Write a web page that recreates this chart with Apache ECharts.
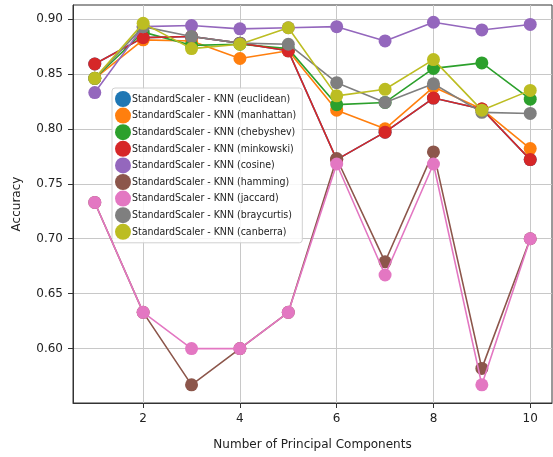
<!DOCTYPE html>
<html>
<head>
<meta charset="utf-8">
<script src="https://cdn.jsdelivr.net/npm/echarts@6/dist/echarts.min.js"></script>
<style>html,body{margin:0;padding:0;background:#fff;}#c{width:553px;height:457px;}</style>
</head>
<body>
<div id="c"></div>
<script>
const components = [1, 2, 3, 4, 5, 6, 7, 8, 9, 10];
const xTicks = [2, 4, 6, 8, 10];
const yTicks = [0.60, 0.65, 0.70, 0.75, 0.80, 0.85, 0.90];

const euclidean  = [0.859, 0.883, 0.884, 0.878, 0.871, 0.772, 0.797, 0.828, 0.818, 0.772];
const manhattan  = [0.846, 0.881, 0.880, 0.864, 0.871, 0.817, 0.800, 0.838, 0.818, 0.782];
const chebyshev  = [0.846, 0.888, 0.876, 0.877, 0.873, 0.822, 0.824, 0.855, 0.860, 0.827];
const minkowski  = [0.859, 0.883, 0.884, 0.878, 0.871, 0.772, 0.797, 0.828, 0.818, 0.772];
const cosine     = [0.833, 0.893, 0.894, 0.891, 0.892, 0.893, 0.880, 0.897, 0.890, 0.895];
const hamming    = [0.733, 0.633, 0.567, 0.600, 0.633, 0.773, 0.679, 0.779, 0.582, 0.700];
const jaccard    = [0.733, 0.633, 0.600, 0.600, 0.633, 0.768, 0.667, 0.768, 0.567, 0.700];
const braycurtis = [0.846, 0.893, 0.884, 0.878, 0.877, 0.842, 0.824, 0.841, 0.815, 0.814];
const canberra   = [0.846, 0.896, 0.873, 0.877, 0.892, 0.830, 0.836, 0.863, 0.817, 0.835];

const seriesNames = [
  'StandardScaler - KNN (euclidean)',
  'StandardScaler - KNN (manhattan)',
  'StandardScaler - KNN (chebyshev)',
  'StandardScaler - KNN (minkowski)',
  'StandardScaler - KNN (cosine)',
  'StandardScaler - KNN (hamming)',
  'StandardScaler - KNN (jaccard)',
  'StandardScaler - KNN (braycurtis)',
  'StandardScaler - KNN (canberra)'
];
const seriesValues = [euclidean, manhattan, chebyshev, minkowski, cosine, hamming, jaccard, braycurtis, canberra];
const colors = ['#1f77b4','#ff7f0e','#2ca02c','#d62728','#9467bd','#8c564b','#e377c2','#7f7f7f','#bcbd22'];

const chart = echarts.init(document.getElementById('c'), null, {renderer: 'canvas'});
const font = 'DejaVu Sans';
chart.setOption({
  animation: false,
  color: colors,
  grid: {left: 73, top: 5, right: 1, bottom: 54, show: true, borderColor: '#333', borderWidth: 1, backgroundColor: 'transparent'},
  legend: {
    left: 112, top: 88, orient: 'vertical',
    icon: 'circle', itemWidth: 16, itemHeight: 16, itemGap: 0.6,
    padding: [3, 6, 3, 3],
    backgroundColor: 'rgba(255,255,255,0.85)', borderColor: '#d0d0d0', borderWidth: 1, borderRadius: 3,
    textStyle: {fontFamily: 'DejaVu Sans Condensed, DejaVu Sans', fontSize: 10.5, color: '#222', padding: [0, 0, 0, -4]},
    data: seriesNames
  },
  xAxis: {
    type: 'value', min: 0.55, max: 10.45,
    name: 'Number of Principal Components', nameLocation: 'middle', nameGap: 36,
    nameTextStyle: {fontFamily: font, fontSize: 12, color: '#222'},
    axisLine: {show: true, lineStyle: {color: '#333'}},
    axisTick: {show: true, length: 5, lineStyle: {color: '#333'}, customValues: xTicks},
    axisLabel: {fontFamily: font, fontSize: 12, color: '#222', margin: 10, customValues: xTicks},
    splitLine: {show: true, lineStyle: {color: '#c8c8c8', width: 1}}
  },
  yAxis: {
    type: 'value', min: 0.5505, max: 0.9127,
    name: 'Accuracy', nameLocation: 'middle', nameGap: 50,
    nameTextStyle: {fontFamily: font, fontSize: 12, color: '#222'},
    axisLine: {show: true, lineStyle: {color: '#333'}},
    axisTick: {show: true, length: 5, lineStyle: {color: '#333'}, customValues: yTicks},
    axisLabel: {fontFamily: font, fontSize: 12, color: '#222', margin: 10, customValues: yTicks,
      formatter: v => v.toFixed(2)},
    splitLine: {show: true, lineStyle: {color: '#c8c8c8', width: 1}}
  },
  series: seriesNames.map((name, i) => ({
    name: name, type: 'line',
    data: components.map((c, j) => [c, seriesValues[i][j]]),
    symbol: 'circle', symbolSize: 13,
    lineStyle: {width: 1.6, color: colors[i]},
    itemStyle: {color: colors[i]},
    z: 2 + i
  }))
});
</script>
</body>
</html>
